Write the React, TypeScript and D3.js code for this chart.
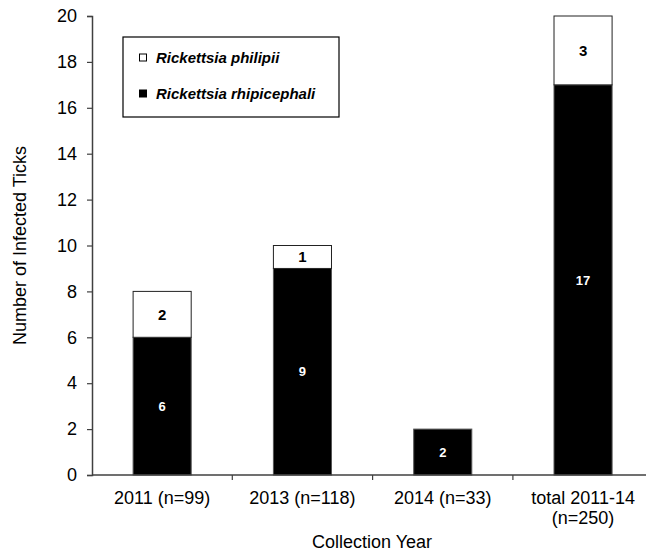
import { useEffect, useRef } from "react"
import * as d3 from "d3"

const categories = ["2011 (n=99)", "2013 (n=118)", "2014 (n=33)", "total 2011-14\n(n=250)"]
const rhipicephali = [6, 9, 2, 17]
const philipii = [2, 1, 0, 3]
const yTicks = [0, 2, 4, 6, 8, 10, 12, 14, 16, 18, 20]

const FONT = "Liberation Sans, Arial, sans-serif"

export default function App() {
  const svgRef = useRef<SVGSVGElement>(null)

  useEffect(() => {
    if (!svgRef.current) return
    const svg = d3.select(svgRef.current)
    svg.selectAll("*").remove()

    const left = 92
    const top = 16
    const bottom = 475

    const x = d3.scaleBand().domain(categories).range([left, left + 4 * 140.3]).paddingInner(0.586).paddingOuter(0.293)
    const y = d3.scaleLinear().domain([0, 20]).range([bottom, top])

    const axisColor = "#404040"

    // bars
    categories.forEach((c, i) => {
      const bx = x(c) || 0
      const bw = x.bandwidth()
      const r = rhipicephali[i]
      const p = philipii[i]
      svg.append("rect")
        .attr("x", bx).attr("y", y(r)).attr("width", bw).attr("height", y(0) - y(r))
        .attr("fill", "#000").attr("stroke", "#555").attr("stroke-width", 1)
      svg.append("text")
        .attr("x", bx + bw / 2).attr("y", (y(0) + y(r)) / 2).attr("dy", "0.36em")
        .attr("text-anchor", "middle").attr("fill", "#fff")
        .style("font", `bold 13px ${FONT}`).text(r)
      if (p > 0) {
        svg.append("rect")
          .attr("x", bx).attr("y", y(r + p)).attr("width", bw).attr("height", y(r) - y(r + p))
          .attr("fill", "#fff").attr("stroke", "#222").attr("stroke-width", 1)
        svg.append("text")
          .attr("x", bx + bw / 2).attr("y", (y(r) + y(r + p)) / 2).attr("dy", "0.36em")
          .attr("text-anchor", "middle").attr("fill", "#000")
          .style("font", `bold 15px ${FONT}`).text(p)
      }
    })

    // y axis
    const ya = svg.append("g").attr("transform", `translate(${left},0)`)
      .call(d3.axisLeft(y).tickValues(yTicks).tickSize(5).tickPadding(10))
    ya.select(".domain").attr("stroke", axisColor).attr("stroke-width", 1.5)
    ya.selectAll(".tick line").attr("stroke", axisColor).attr("stroke-width", 1.2)
    ya.selectAll(".tick text").attr("fill", "#000").style("font", `18px ${FONT}`)

    // x axis
    const xa = svg.append("g").attr("transform", `translate(0,${bottom})`)
    xa.append("line").attr("x1", left).attr("x2", left + 4 * 140.3).attr("y1", 0).attr("y2", 0)
      .attr("stroke", axisColor).attr("stroke-width", 1.5)
    const step = x.step()
    d3.range(1, categories.length).forEach((k) => {
      xa.append("line").attr("x1", left + k * step).attr("x2", left + k * step).attr("y1", 0).attr("y2", 5)
        .attr("stroke", axisColor).attr("stroke-width", 1.2)
    })
    categories.forEach((c) => {
      const cx = (x(c) || 0) + x.bandwidth() / 2
      const lines = c.split("\n")
      lines.forEach((ln, j) => {
        xa.append("text").attr("x", cx).attr("y", 29 + j * 20).attr("text-anchor", "middle")
          .attr("fill", "#000").style("font", `18px ${FONT}`).text(ln)
      })
    })

    // axis titles
    svg.append("text").attr("transform", `translate(26,${(top + bottom) / 2}) rotate(-90)`)
      .attr("text-anchor", "middle").style("font", `18px ${FONT}`).text("Number of Infected Ticks")
    svg.append("text").attr("x", 372).attr("y", 548).attr("text-anchor", "middle")
      .style("font", `18px ${FONT}`).text("Collection Year")

    // legend
    const lg = svg.append("g")
    lg.append("rect").attr("x", 123).attr("y", 37).attr("width", 216).attr("height", 80)
      .attr("fill", "#fff").attr("stroke", "#000").attr("stroke-width", 1.2)
    const items = [
      { label: "Rickettsia philipii", fill: "#fff" },
      { label: "Rickettsia rhipicephali", fill: "#000" },
    ]
    items.forEach((it, i) => {
      const cy = 58 + i * 36
      lg.append("rect").attr("x", 139.5).attr("y", cy - 4).attr("width", 7).attr("height", 7)
        .attr("fill", it.fill).attr("stroke", "#000").attr("stroke-width", 1)
      lg.append("text").attr("x", 156).attr("y", cy + 5)
        .style("font", `italic bold 15px ${FONT}`).text(it.label)
    })
  }, [])

  return (
    <svg ref={svgRef} width={646} height={551}
      style={{ position: "absolute", left: 0, top: 0, background: "#fff" }} />
  )
}
